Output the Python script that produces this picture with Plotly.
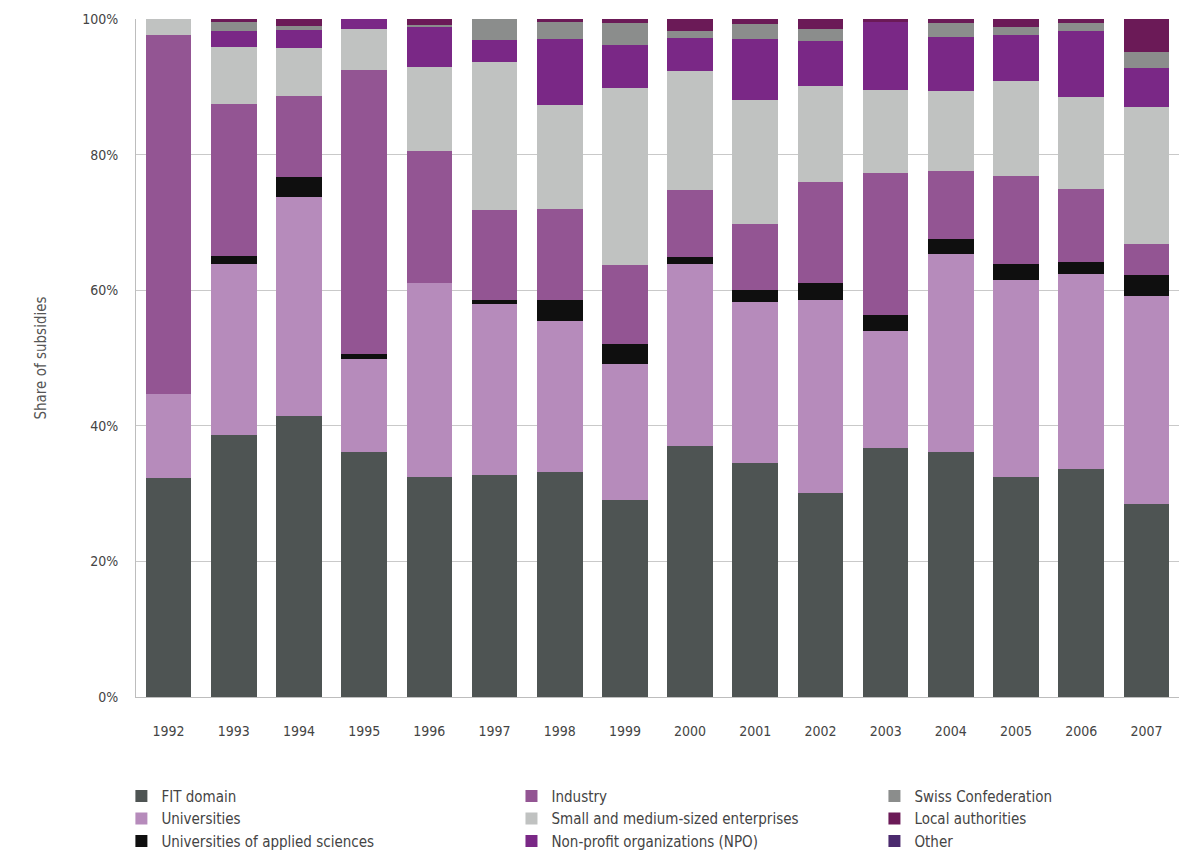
import plotly.graph_objects as go

years = ["1992", "1993", "1994", "1995", "1996", "1997", "1998", "1999",
         "2000", "2001", "2002", "2003", "2004", "2005", "2006", "2007"]

# Share of subsidies by source (percent of each year's total)
fit_domain   = [32.3, 38.7, 41.5, 36.1, 32.4, 32.7, 33.2, 29.1, 37.0, 34.5, 30.1, 36.7, 36.2, 32.4, 33.6, 28.4]
universities = [12.4, 25.1, 32.2, 13.7, 28.6, 25.2, 22.3, 20.0, 26.8, 23.7, 28.5, 17.3, 29.1, 29.1, 28.8, 30.8]
univ_applied = [0.0, 1.3, 3.0, 0.8, 0.0, 0.7, 3.0, 3.0, 1.1, 1.8, 2.4, 2.3, 2.3, 2.4, 1.8, 3.0]
industry     = [52.9, 22.3, 11.9, 41.9, 19.5, 13.2, 13.5, 11.6, 9.9, 9.8, 15.0, 21.0, 10.0, 12.9, 10.7, 4.6]
smes         = [2.4, 8.5, 7.1, 6.0, 12.4, 21.9, 15.3, 26.1, 17.5, 18.2, 14.1, 12.3, 11.8, 14.1, 13.6, 20.2]
npo          = [0.0, 2.4, 2.7, 1.5, 5.9, 3.2, 9.7, 6.4, 4.9, 9.1, 6.7, 10.0, 8.0, 6.7, 9.8, 5.7]
confederation = [0.0, 1.2, 0.5, 0.0, 0.3, 3.1, 2.5, 3.2, 1.1, 2.2, 1.7, 0.0, 2.0, 1.2, 1.1, 2.5]
local_auth   = [0.0, 0.5, 1.1, 0.0, 0.9, 0.0, 0.5, 0.6, 1.7, 0.7, 1.5, 0.4, 0.6, 1.2, 0.6, 4.8]
other        = [0.0] * 16

y_ticks = [0, 20, 40, 60, 80, 100]
y_tick_labels = ["0%", "20%", "40%", "60%", "80%", "100%"]

series = [
    ("FIT domain", fit_domain, "#4e5453", "legend", 1),
    ("Universities", universities, "#b68bbb", "legend", 2),
    ("Universities of applied sciences", univ_applied, "#0f0f0f", "legend", 3),
    ("Industry", industry, "#935593", "legend2", 1),
    ("Small and medium-sized enterprises", smes, "#c0c2c1", "legend2", 2),
    ("Non-profit organizations (NPO)", npo, "#7a2886", "legend2", 3),
    ("Swiss Confederation", confederation, "#8b8d8c", "legend3", 1),
    ("Local authorities", local_auth, "#6b1a57", "legend3", 2),
    ("Other", other, "#4b2a6e", "legend3", 3),
]

FAMILY = "DejaVu Sans Condensed, DejaVu Sans, sans-serif"


def font(size, color="#444444"):
    return dict(family=FAMILY, size=size, color=color)


fig = go.Figure()
for name, vals, color, leg, rank in series:
    fig.add_trace(go.Bar(
        x=years, y=vals, name=name,
        marker=dict(color=color, line=dict(width=0)),
        legend=leg, legendrank=rank,
    ))

legend_common = dict(
    orientation="v", yanchor="top", y=-0.122, xanchor="left",
    font=font(15),
    bgcolor="rgba(0,0,0,0)", tracegroupgap=0, itemwidth=30,
    traceorder="normal",
)

fig.update_layout(
    barmode="stack",
    bargap=0.3,
    width=1179, height=863,
    margin=dict(l=136, r=0, t=19, b=166),
    paper_bgcolor="white", plot_bgcolor="white",
    font=font(14),
    xaxis=dict(
        type="category", range=[-0.5, 15.5],
        showgrid=False, showline=True, linecolor="#bdbdbd", linewidth=1,
        ticks="", ticklabelstandoff=21,
        tickfont=font(14),
    ),
    yaxis=dict(
        range=[0, 100], tickvals=y_ticks, ticktext=y_tick_labels,
        showgrid=True, gridcolor="#c9c9c9", gridwidth=1,
        showline=True, linecolor="#bdbdbd", linewidth=1,
        zeroline=False, ticks="", ticklabelstandoff=14,
        tickfont=font(14),
        title=dict(text="Share of subsidies", standoff=31,
                   font=font(15, "#555555")),
    ),
    legend=dict(legend_common, x=-0.014),
    legend2=dict(legend_common, x=0.360),
    legend3=dict(legend_common, x=0.708),
)

fig.write_html("out.html")
